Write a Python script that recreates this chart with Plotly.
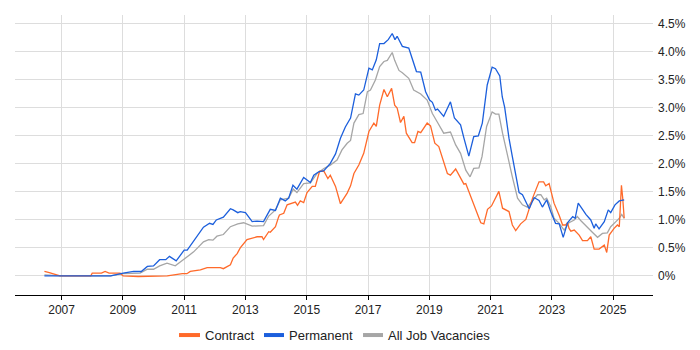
import plotly.graph_objects as go

contract_x = [2006.44, 2006.6, 2006.95, 2007.5, 2007.95, 2008.0, 2008.3, 2008.42, 2008.55, 2008.91,
              2009.01, 2009.5, 2010.0, 2010.45, 2010.94, 2011.09, 2011.2, 2011.53, 2011.75, 2012.18,
              2012.28, 2012.51, 2012.6, 2012.73, 2012.83, 2013.0, 2013.05, 2013.38, 2013.54, 2013.59,
              2013.76, 2013.81, 2013.98, 2014.08, 2014.11, 2014.25, 2014.36, 2014.63, 2014.7, 2014.79,
              2014.9, 2015.01, 2015.18, 2015.28, 2015.42, 2015.56, 2015.69, 2015.77, 2015.94, 2016.1,
              2016.32, 2016.43, 2016.54, 2016.7, 2016.86, 2017.03, 2017.19, 2017.27, 2017.38, 2017.52,
              2017.63, 2017.77, 2017.87, 2017.95, 2018.06, 2018.17, 2018.25, 2018.44, 2018.52, 2018.63,
              2018.72, 2018.93, 2019.04, 2019.18, 2019.31, 2019.59, 2019.69, 2019.86, 2020.13, 2020.19,
              2020.35, 2020.51, 2020.68, 2020.78, 2020.9, 2021.03, 2021.17, 2021.27, 2021.39, 2021.6,
              2021.71, 2021.82, 2021.98, 2022.15, 2022.37, 2022.58, 2022.73, 2022.8, 2022.91, 2023.07,
              2023.24, 2023.35, 2023.45, 2023.51, 2023.56, 2023.62, 2023.73, 2023.89, 2024.0, 2024.16,
              2024.27, 2024.38, 2024.54, 2024.71, 2024.79, 2024.87, 2025.03, 2025.14, 2025.2, 2025.27,
              2025.31, 2025.36]
contract_y = [0.08, 0.06, 0.0, 0.0, 0.0, 0.05, 0.05, 0.08, 0.05, 0.05,
              0.0, -0.01, -0.01, 0.0, 0.04, 0.04, 0.08, 0.11, 0.15, 0.15,
              0.13, 0.2, 0.32, 0.4, 0.5, 0.63, 0.65, 0.7, 0.7, 0.65,
              0.79, 0.78, 0.88, 1.05, 1.09, 1.12, 1.27, 1.32, 1.26, 1.34,
              1.31, 1.49, 1.6, 1.6, 1.87, 1.87, 1.74, 1.8, 1.6, 1.29,
              1.48, 1.61, 1.83, 1.98, 2.19, 2.58, 2.73, 2.67, 3.05, 3.33,
              3.2, 3.35, 3.05, 3.0, 2.74, 2.85, 2.55, 2.38, 2.38, 2.58,
              2.56, 2.73, 2.68, 2.37, 2.31, 1.83, 1.8, 1.91, 1.64, 1.65,
              1.42, 1.21, 0.95, 0.93, 1.19, 1.25, 1.42, 1.51, 1.21, 1.15,
              0.91, 0.81, 0.93, 1.01, 1.39, 1.68, 1.68, 1.61, 1.65, 1.3,
              1.08, 0.91, 0.91, 0.95, 0.85, 0.8, 0.82, 0.73, 0.63, 0.63,
              0.7, 0.48, 0.48, 0.55, 0.42, 0.73, 0.85, 0.91, 0.88, 1.62,
              1.4, 1.03]

perm_x = [2006.44, 2007.0, 2008.0, 2008.6, 2009.01, 2009.35, 2009.6, 2009.8, 2010.0, 2010.2,
          2010.4, 2010.52, 2010.74, 2011.0, 2011.1, 2011.47, 2011.63, 2011.83, 2011.94, 2012.05,
          2012.28, 2012.51, 2012.6, 2012.75, 2012.83, 2013.0, 2013.22, 2013.38, 2013.54, 2013.59,
          2013.81, 2013.98, 2014.14, 2014.3, 2014.41, 2014.55, 2014.68, 2014.9, 2015.12, 2015.23,
          2015.39, 2015.56, 2015.77, 2015.94, 2016.1, 2016.26, 2016.43, 2016.59, 2016.7, 2016.86,
          2017.03, 2017.14, 2017.27, 2017.38, 2017.52, 2017.66, 2017.79, 2017.88, 2017.95, 2018.12,
          2018.33, 2018.44, 2018.58, 2018.72, 2018.88, 2019.01, 2019.1, 2019.2, 2019.27, 2019.47,
          2019.69, 2019.82, 2020.02, 2020.13, 2020.29, 2020.45, 2020.6, 2020.73, 2020.89, 2021.05,
          2021.16, 2021.3, 2021.38, 2021.46, 2021.6, 2021.71, 2021.93, 2022.04, 2022.26, 2022.42,
          2022.58, 2022.69, 2022.83, 2022.96, 2023.12, 2023.24, 2023.37, 2023.51, 2023.68, 2023.76,
          2023.86, 2024.0, 2024.11, 2024.27, 2024.38, 2024.43, 2024.54, 2024.71, 2024.84, 2024.92,
          2025.06, 2025.2, 2025.36]
perm_y = [0.0, 0.0, -0.01, 0.0, 0.05, 0.08, 0.08, 0.17, 0.18, 0.29,
          0.29, 0.35, 0.27, 0.46, 0.46, 0.76, 0.87, 0.94, 0.92, 1.0,
          1.05, 1.2, 1.18, 1.13, 1.15, 1.13, 0.97, 0.98, 0.98, 0.97,
          1.19, 1.17, 1.39, 1.34, 1.39, 1.62, 1.55, 1.76, 1.67, 1.8,
          1.86, 1.88, 2.01, 2.18, 2.46, 2.66, 2.82, 3.25, 3.23, 3.32,
          3.71, 3.68, 3.86, 4.15, 4.15, 4.22, 4.33, 4.22, 4.28, 4.1,
          4.07, 3.89, 3.65, 3.64, 3.29, 3.14, 3.1, 2.96, 2.98, 2.85,
          3.11, 2.82, 2.7, 2.46, 2.14, 2.49, 2.5, 2.73, 3.41, 3.73,
          3.7, 3.57, 3.2, 3.01, 2.46, 2.13, 1.49, 1.45, 1.2, 1.4,
          1.35, 1.23, 1.36, 1.15, 0.94, 0.93, 0.69, 0.95, 1.06, 1.03,
          1.3, 1.19, 1.1, 1.0, 0.85, 0.93, 0.84, 0.97, 1.18, 1.13,
          1.27, 1.34, 1.36]

all_x = [2006.44, 2007.0, 2008.0, 2008.6, 2009.01, 2009.56, 2009.8, 2010.0, 2010.2, 2010.44,
         2010.71, 2011.03, 2011.31, 2011.47, 2011.63, 2011.8, 2011.94, 2012.07, 2012.28, 2012.51,
         2012.75, 2012.94, 2013.22, 2013.59, 2013.76, 2013.98, 2014.14, 2014.41, 2014.56, 2014.68,
         2014.9, 2015.12, 2015.34, 2015.56, 2015.77, 2015.99, 2016.15, 2016.32, 2016.43, 2016.54,
         2016.7, 2016.84, 2016.98, 2017.08, 2017.24, 2017.38, 2017.52, 2017.63, 2017.79, 2017.87,
         2018.01, 2018.12, 2018.33, 2018.49, 2018.72, 2018.93, 2019.1, 2019.27, 2019.47, 2019.69,
         2019.86, 2020.02, 2020.19, 2020.33, 2020.45, 2020.62, 2020.72, 2020.87, 2021.05, 2021.16,
         2021.27, 2021.39, 2021.55, 2021.71, 2021.88, 2022.04, 2022.2, 2022.37, 2022.53, 2022.64,
         2022.75, 2022.83, 2022.96, 2023.07, 2023.24, 2023.4, 2023.56, 2023.73, 2023.83, 2023.94,
         2024.16, 2024.32, 2024.49, 2024.65, 2024.81, 2024.92, 2025.09, 2025.2, 2025.28, 2025.36]
all_y = [0.02, 0.0, 0.0, 0.0, 0.04, 0.05, 0.12, 0.12, 0.18, 0.23,
         0.18, 0.32, 0.43, 0.52, 0.61, 0.65, 0.64, 0.71, 0.74, 0.88,
         0.93, 0.95, 0.89, 0.9, 1.07, 1.18, 1.36, 1.39, 1.55, 1.49,
         1.65, 1.66, 1.83, 1.92, 1.98, 2.07, 2.25, 2.37, 2.42, 2.73,
         2.88, 2.9, 3.29, 3.32, 3.5, 3.74, 3.83, 3.85, 3.99, 3.85,
         3.67, 3.63, 3.53, 3.32, 3.25, 3.14, 2.9, 2.74, 2.55, 2.57,
         2.34, 2.19, 1.89, 1.77, 1.92, 1.93, 2.13, 2.67, 2.93, 2.89,
         2.89, 2.55, 2.13, 1.77, 1.39, 1.27, 1.23, 1.34, 1.45, 1.45,
         1.36, 1.39, 1.24, 1.03, 0.94, 0.82, 0.95, 1.0, 1.06, 0.99,
         0.86, 0.78, 0.69, 0.76, 0.77, 0.88, 0.97, 1.03, 1.1, 1.03]

year_ticks = [2007, 2009, 2011, 2013, 2015, 2017, 2019, 2021, 2023, 2025]
pct_ticks = [0, 0.5, 1.0, 1.5, 2.0, 2.5, 3.0, 3.5, 4.0, 4.5]
pct_labels = ["0%", "0.5%", "1.0%", "1.5%", "2.0%", "2.5%", "3.0%", "3.5%", "4.0%", "4.5%"]

names = ["Contract", "Permanent", "All Job Vacancies"]
colors = ["#ff6a2a", "#1c5fdc", "#a6a6a6"]

fig = go.Figure()
series = [(all_x, all_y, 2), (contract_x, contract_y, 0), (perm_x, perm_y, 1)]
for xs, ys, i in series:
    fig.add_trace(go.Scatter(x=xs, y=ys, mode="lines", name=names[i],
                             line=dict(color=colors[i], width=1.3),
                             showlegend=False, hoverinfo="skip"))

# custom legend below the plot (paper coordinates)
legend_y = -0.143
legend_items = [(0.2571, 0.2900, 0.2950), (0.3903, 0.4216, 0.4267), (0.5455, 0.5768, 0.5818)]
for i, (x0, x1, xt) in enumerate(legend_items):
    fig.add_shape(type="line", xref="paper", yref="paper", x0=x0, x1=x1, y0=legend_y, y1=legend_y,
                  line=dict(color=colors[i], width=4))
    fig.add_annotation(xref="paper", yref="paper", x=xt, y=legend_y, text=names[i],
                       showarrow=False, xanchor="left", yanchor="middle",
                       font=dict(size=13, color="#222"))

fig.update_layout(
    width=700, height=350,
    margin=dict(l=7, r=55, t=7, b=63),
    paper_bgcolor="white", plot_bgcolor="white",
    font=dict(family="Liberation Sans, Arial, sans-serif", size=12, color="#222"),
    showlegend=False,
    xaxis=dict(range=[2005.48, 2026.3], tickvals=year_ticks, ticktext=[str(t) for t in year_ticks],
               showgrid=True, gridcolor="#dddddd", gridwidth=1, zeroline=False,
               showline=True, linecolor="#000", linewidth=1,
               ticks="outside", ticklen=4, tickcolor="#000"),
    yaxis=dict(range=[-0.34, 4.66], side="right", tickvals=pct_ticks, ticktext=pct_labels,
               showgrid=True, gridcolor="#dddddd", gridwidth=1, zeroline=False,
               showline=False, ticks="", ticklabelstandoff=4),
)

fig.write_html("out.html")
